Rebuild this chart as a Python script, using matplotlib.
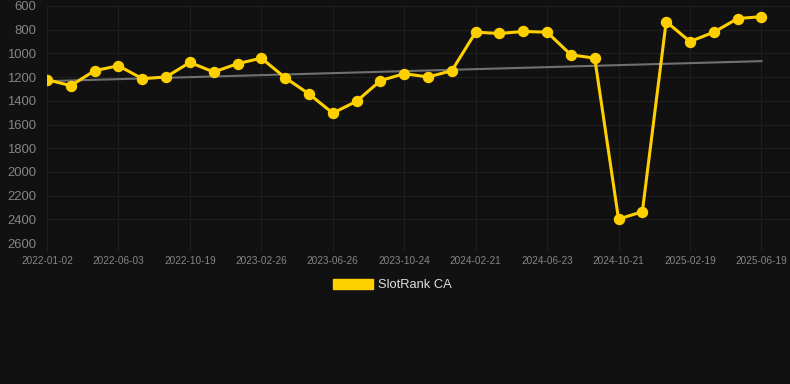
import numpy as np
import matplotlib
matplotlib.use("Agg")
import matplotlib.pyplot as plt
from matplotlib.patches import Patch

# rank values, one per monthly snapshot (lower is better)
rank_values = [1222, 1272, 1146, 1104, 1213, 1199, 1076, 1157, 1087, 1040,
               1205, 1342, 1504, 1404, 1230, 1171, 1199, 1146, 821, 832,
               815, 821, 1012, 1040, 2398, 2336, 732, 900, 821, 706, 690]
tick_labels = ["2022-01-02", "2022-06-03", "2022-10-19", "2023-02-26", "2023-06-26",
               "2023-10-24", "2024-02-21", "2024-06-23", "2024-10-21", "2025-02-19",
               "2025-06-19"]
y_ticks = [600, 800, 1000, 1200, 1400, 1600, 1800, 2000, 2200, 2400, 2600]
series_name = "SlotRank CA"

BG = "#111111"
GRID = "#1f1f1f"
YELLOW = "#FFD000"

plt.rcParams['font.family'] = ['Liberation Sans', 'DejaVu Sans']

fig = plt.figure(figsize=(7.9, 3.84), dpi=100, facecolor=BG)
ax = fig.add_axes([47 / 790, (384 - 243) / 384, 743 / 790, 237 / 384])
ax.set_facecolor(BG)

x = np.arange(len(rank_values))
ax.plot(x, rank_values, color=YELLOW, lw=2.2, marker="o", ms=7.2,
        solid_joinstyle="round", zorder=3)

# linear trend over the whole series
slope, intercept = np.polyfit(x, rank_values, 1)
ax.plot([x[0], x[-1]], [intercept, intercept + slope * x[-1]], color="#707070", lw=1.5, zorder=2)

ax.set_xlim(0, 31.2)
ax.set_ylim(2600, 600)
ax.set_yticks(y_ticks)
ax.set_yticklabels([str(v) for v in y_ticks])
ax.set_xticks(np.arange(0, len(rank_values), 3))
ax.set_xticklabels(tick_labels)

ax.grid(True, color=GRID, lw=0.8)
ax.set_axisbelow(True)
for s in ax.spines.values():
    s.set_visible(False)
ax.tick_params(axis="y", length=0, pad=8, labelsize=9.4, labelcolor="#858585")
ax.tick_params(axis="x", length=6, color=GRID, pad=3, labelsize=7.2, labelcolor="#858585")

fig.legend(handles=[Patch(facecolor=YELLOW, edgecolor=YELLOW)], labels=[series_name],
           loc="center", bbox_to_anchor=(0.497, 1 - 285 / 384), frameon=False,
           fontsize=9.3, labelcolor="#dddddd", handlelength=3.1, handleheight=0.85,
           handletextpad=0.4)

fig.savefig("out.png", dpi=100, facecolor=BG)
